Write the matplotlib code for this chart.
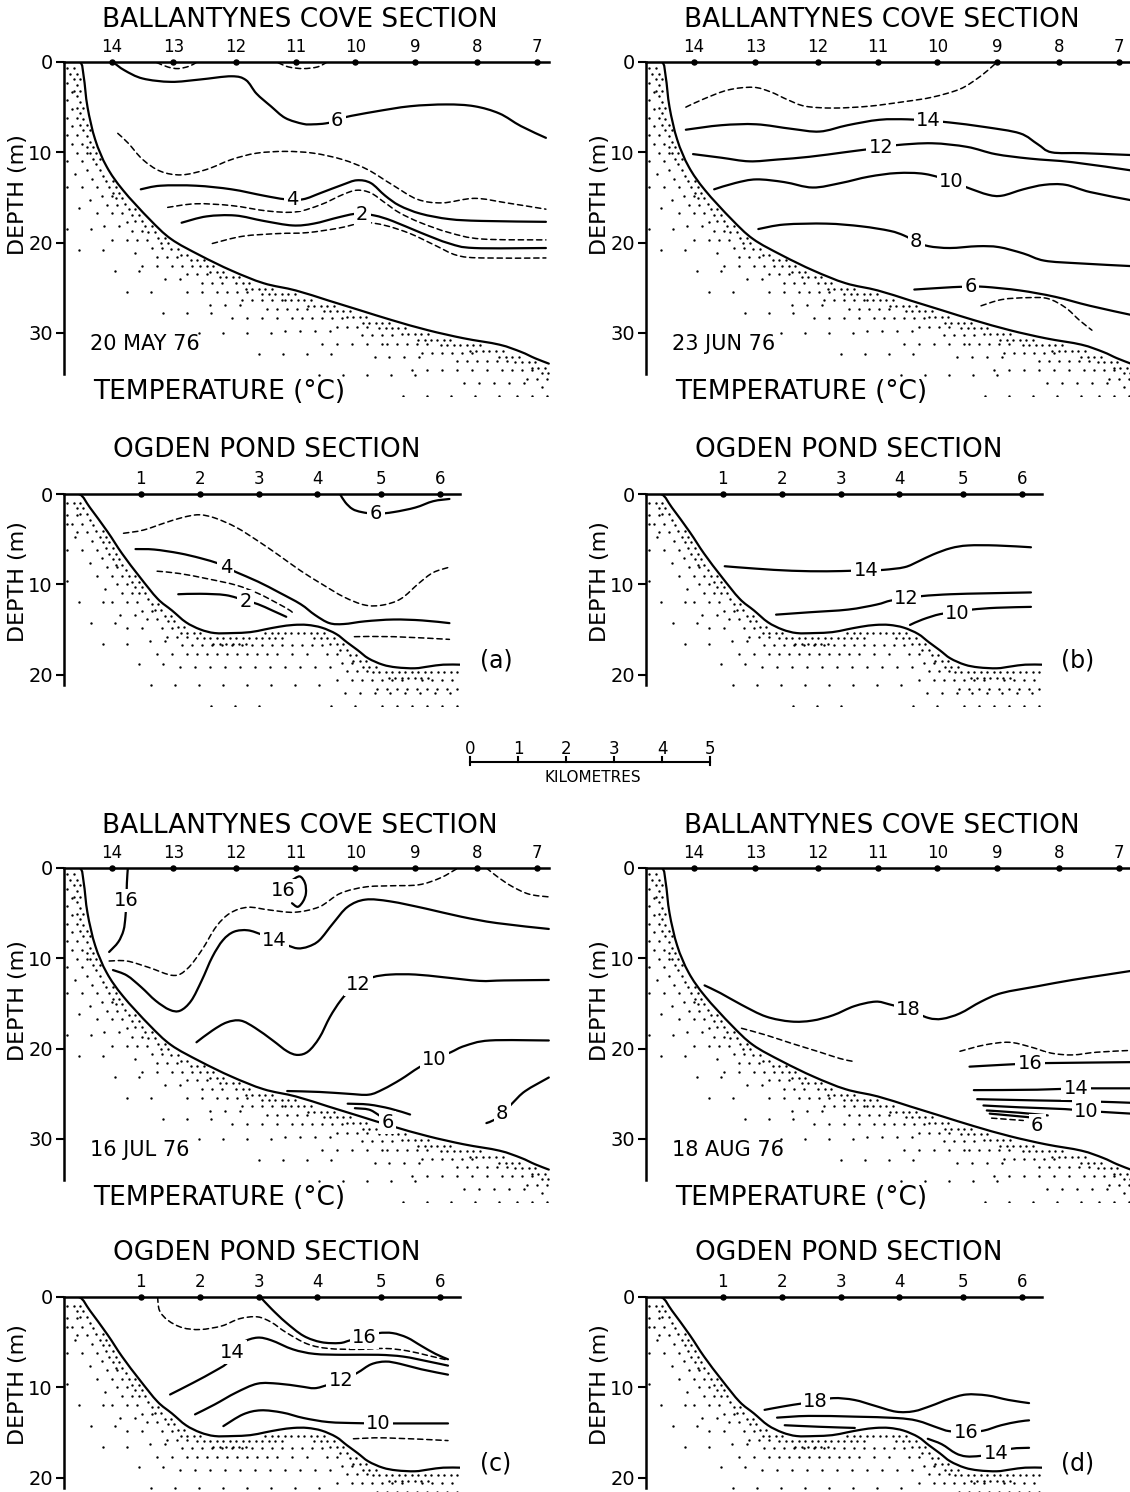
import numpy as np
import matplotlib.pyplot as plt
from matplotlib.path import Path
from matplotlib.patches import PathPatch

plt.rcParams['font.family'] = 'DejaVu Sans'

W, H = 1130, 1492
PX_KM = 48.0   # horizontal scale, same as the kilometre bar
PX_M = 9.03    # vertical scale

# stations and bottom profiles (km from shore, depth in m)
bc_station_km = [1.0, 2.28, 3.58, 4.83, 6.07, 7.31, 8.6, 9.85]
bc_station_lbl = ['14', '13', '12', '11', '10', '9', '8', '7']
op_station_km = [1.6, 2.84, 4.06, 5.28, 6.6, 7.84]
op_station_lbl = ['1', '2', '3', '4', '5', '6']

bc_bottom_km = [0, 0.33, 0.41, 0.49, 0.65, 0.89, 1.23, 1.78, 2.23, 2.83, 3.49,
                4.16, 4.83, 5.5, 6.17, 6.84, 7.58, 8.33, 9.07, 9.52, 9.81, 10.1]
bc_bottom_m = [0, 0, 1.6, 5.0, 8.6, 11.6, 14.2, 17.4, 19.6, 21.4, 23.1,
               24.5, 25.3, 26.4, 27.5, 28.6, 29.7, 30.6, 31.3, 32.1, 32.8, 33.4]
op_bottom_km = [0, 0.33, 0.54, 0.91, 1.21, 1.58, 1.95, 2.25, 2.54, 2.84, 3.14, 3.51,
                3.88, 4.18, 4.48, 4.78, 5.07, 5.37, 5.67, 5.89, 6.12, 6.34, 6.64,
                6.93, 7.31, 7.6, 7.9, 8.25]
op_bottom_m = [0, 0.05, 1.5, 4.2, 6.6, 9.2, 11.6, 12.9, 14.2, 15.0, 15.4, 15.4,
               15.3, 15.0, 14.7, 14.5, 14.5, 14.8, 15.5, 16.4, 17.3, 18.2, 18.9,
               19.2, 19.3, 19.1, 18.9, 18.9]

km_scale = [0, 1, 2, 3, 4, 5]

# ---------------- (a) 20 May 76 ----------------
may_bc_d1 = [(1.93, 0.05), (2.16, 0.55), (2.38, 0.73), (2.6, 0.48), (2.75, 0.08)]
may_bc_d2 = [(4.46, 0.08), (4.68, 0.55), (4.98, 0.73), (5.28, 0.55), (5.46, 0.08)]
may_bc_6 = [(1.03, 0.05), (1.26, 0.92), (1.64, 1.83), (2.23, 2.2), (2.83, 1.94), (3.49, 1.58),
            (3.79, 2.0), (4.01, 3.5), (4.31, 4.9), (4.61, 6.2), (4.98, 6.85), (5.2, 6.9),
            (5.45, 6.8), (5.69, 6.5), (5.87, 6.1), (6.47, 5.5), (7.21, 4.9), (7.96, 4.7),
            (8.55, 4.9), (9.07, 5.7), (9.52, 7.1), (10.04, 8.4)]
may_bc_5 = [(1.12, 7.9), (1.34, 9.0), (1.64, 10.8), (2.01, 12.1), (2.45, 12.5), (2.97, 11.9),
            (3.49, 10.8), (4.01, 10.1), (4.61, 9.9), (5.2, 10.1), (5.8, 10.8), (6.32, 11.9),
            (6.84, 13.6), (7.36, 15.2), (7.88, 15.6), (8.55, 15.1), (9.22, 15.6), (10.04, 16.3)]
may_bc_4 = [(1.6, 14.1), (2.01, 13.7), (2.75, 13.7), (3.49, 14.1), (4.16, 14.8), (4.61, 15.2),
            (4.98, 15.2), (5.35, 14.5), (5.8, 13.6), (6.1, 13.1), (6.39, 13.4), (6.69, 14.8),
            (6.99, 15.9), (7.43, 16.8), (8.03, 17.4), (8.7, 17.6), (10.04, 17.7)]
may_bc_3 = [(2.16, 16.1), (2.75, 15.7), (3.49, 15.9), (4.24, 16.5), (4.83, 16.6), (5.35, 15.8),
            (5.8, 14.7), (6.1, 14.2), (6.39, 14.5), (6.69, 15.6), (6.99, 16.7), (7.43, 17.8),
            (8.03, 18.9), (8.7, 19.6), (10.04, 19.7)]
may_bc_2 = [(2.45, 17.8), (2.97, 17.1), (3.57, 17.0), (4.16, 17.6), (4.76, 18.1), (5.2, 17.9),
            (5.72, 17.2), (6.1, 16.8), (6.47, 17.0), (6.84, 17.6), (7.43, 18.9), (8.03, 20.1),
            (8.55, 20.6), (10.04, 20.6)]
may_bc_1 = [(3.09, 20.1), (3.72, 19.3), (4.46, 19.0), (5.06, 18.9), (5.72, 18.4), (6.25, 17.8),
            (6.69, 18.1), (7.21, 19.0), (7.73, 20.3), (8.18, 21.4), (8.7, 21.7), (10.04, 21.7)]
may_bc_labels = [('6', 5.69, 6.5), ('4', 4.76, 15.2), ('2', 6.21, 16.85)]

may_op_6 = [(5.75, 0.0), (5.86, 0.92), (6.01, 1.66), (6.2, 2.0), (6.5, 2.2), (6.87, 2.0),
            (7.32, 1.5), (7.69, 0.8), (8.03, 0.55)]
may_op_5 = [(1.24, 4.35), (1.65, 4.0), (2.1, 3.2), (2.47, 2.6), (2.81, 2.3), (3.14, 2.65),
            (3.59, 3.7), (4.04, 5.2), (4.48, 6.8), (4.93, 8.5), (5.38, 10.0), (5.83, 11.4),
            (6.27, 12.3), (6.64, 12.3), (7.02, 11.6), (7.39, 9.9), (7.69, 8.7), (8.03, 8.1)]
may_op_4 = [(1.49, 6.1), (1.88, 6.15), (2.4, 6.56), (2.84, 7.1), (3.22, 7.7), (3.37, 8.1),
            (3.59, 8.66), (4.04, 9.7), (4.48, 10.9), (4.93, 12.2), (5.23, 13.4), (5.53, 14.3),
            (5.83, 14.4), (6.27, 14.1), (6.86, 13.9), (7.46, 14.0), (8.03, 14.3)]
may_op_3 = [(1.94, 8.55), (2.4, 8.8), (3.0, 9.4), (3.59, 10.1), (4.04, 11.0), (4.41, 12.0),
            (4.71, 12.9), (4.78, 13.3)]
may_op_2 = [(2.38, 11.1), (2.84, 11.05), (3.37, 11.2), (3.78, 11.8), (4.04, 12.2), (4.34, 12.9),
            (4.63, 13.6)]
may_op_1 = [(6.05, 15.8), (6.87, 15.8), (8.03, 16.1)]
may_op_labels = [('6', 6.5, 2.2), ('4', 3.37, 8.1), ('2', 3.78, 11.9)]

# ---------------- (b) 23 Jun 76 ----------------
jun_bc_15 = [(0.83, 5.0), (1.2, 4.1), (1.71, 3.1), (2.23, 2.8), (2.59, 3.3), (2.96, 4.2),
             (3.32, 4.9), (3.91, 5.1), (4.64, 4.9), (5.37, 4.4), (5.96, 3.9), (6.54, 3.0),
             (6.91, 1.8), (7.17, 0.7), (7.31, 0.0)]
jun_bc_14 = [(0.83, 7.5), (1.57, 7.0), (2.3, 6.9), (3.03, 7.4), (3.62, 7.7), (4.2, 7.0),
             (4.86, 6.4), (5.45, 6.35), (5.89, 6.5), (6.33, 6.7), (7.06, 7.2), (7.79, 7.9),
             (8.16, 9.1), (8.45, 10.0), (9.11, 10.1), (10.1, 10.3)]
jun_bc_12 = [(0.98, 10.2), (1.57, 10.6), (2.15, 11.0), (2.74, 10.8), (3.4, 10.5), (4.13, 10.0),
             (4.57, 9.7), (4.9, 9.5), (5.23, 9.2), (5.96, 9.0), (6.69, 9.4), (7.28, 10.2),
             (8.0, 10.7), (8.89, 11.1), (10.1, 12.0)]
jun_bc_10 = [(1.42, 14.1), (1.86, 13.4), (2.3, 13.0), (2.88, 13.3), (3.47, 13.9), (4.06, 13.4),
             (4.64, 12.7), (5.23, 12.3), (5.81, 12.4), (6.36, 13.2), (6.69, 13.9), (7.13, 14.7),
             (7.42, 14.8), (7.86, 14.1), (8.3, 13.6), (8.74, 13.6), (9.25, 14.4), (10.1, 15.3)]
jun_bc_8 = [(2.34, 18.5), (2.88, 18.0), (3.76, 17.9), (4.49, 18.2), (5.08, 18.7), (5.37, 19.2),
            (5.63, 19.9), (5.89, 20.4), (6.33, 20.6), (6.91, 20.4), (7.35, 20.5), (7.86, 21.2),
            (8.3, 22.0), (9.03, 22.3), (10.1, 22.6)]
jun_bc_6 = [(5.59, 25.2), (6.18, 25.0), (6.54, 24.9), (6.76, 24.9), (7.06, 24.9), (7.79, 25.3),
            (8.52, 26.0), (9.25, 27.0), (10.1, 28.0)]
jun_bc_5 = [(6.98, 27.0), (7.42, 26.3), (7.94, 26.1), (8.37, 26.2), (8.74, 27.2), (9.03, 28.6),
            (9.29, 29.7)]
jun_bc_labels = [('14', 5.89, 6.5), ('12', 4.9, 9.5), ('10', 6.36, 13.2), ('8', 5.63, 19.9),
                 ('6', 6.76, 24.9)]

jun_op_14 = [(1.64, 8.0), (2.3, 8.27), (3.04, 8.5), (3.77, 8.56), (4.29, 8.5), (4.58, 8.5),
             (4.95, 8.4), (5.39, 8.1), (5.68, 7.45), (5.98, 6.7), (6.35, 6.0), (6.71, 5.7),
             (7.3, 5.7), (8.02, 5.9)]
jun_op_12 = [(2.71, 13.36), (3.4, 13.1), (4.21, 12.8), (4.8, 12.25), (5.1, 11.8), (5.43, 11.6),
             (5.76, 11.3), (6.35, 11.1), (7.08, 11.0), (8.02, 10.9)]
jun_op_10 = [(5.5, 14.5), (5.76, 13.9), (6.13, 13.3), (6.49, 13.1), (6.79, 12.8), (7.3, 12.6),
             (8.02, 12.5)]
jun_op_labels = [('14', 4.58, 8.5), ('12', 5.43, 11.6), ('10', 6.49, 13.2)]

# ---------------- (c) 16 Jul 76 ----------------
jul_bc_16a = [(1.33, 0.0), (1.31, 1.67), (1.3, 3.6), (1.28, 5.4), (1.24, 6.9), (1.13, 8.2),
              (0.94, 9.3)]
jul_bc_16b = [(4.74, 1.4), (4.91, 0.93), (5.02, 1.67), (5.04, 2.8), (4.98, 3.7), (4.87, 4.3),
              (4.75, 3.9)]
jul_bc_15 = [(0.94, 10.3), (1.31, 10.3), (1.76, 11.0), (2.28, 11.9), (2.57, 11.15), (2.87, 9.1),
             (3.17, 6.5), (3.46, 5.0), (3.83, 4.35), (4.28, 4.65), (4.8, 4.9), (5.32, 4.3),
             (5.76, 2.8), (6.28, 2.1), (6.8, 1.97), (7.39, 1.86), (7.84, 1.1), (8.21, 0.0)]
jul_bc_15b = [(8.8, 0.0), (9.02, 0.93), (9.32, 2.0), (9.69, 2.9), (10.1, 3.2)]
jul_bc_14 = [(1.02, 11.3), (1.31, 11.9), (1.61, 13.2), (1.91, 14.7), (2.2, 15.7), (2.42, 15.8),
             (2.65, 14.7), (2.87, 12.45), (3.09, 9.85), (3.31, 8.0), (3.54, 7.06), (3.83, 6.9),
             (4.13, 7.4), (4.39, 8.0), (4.65, 8.55), (4.87, 8.9), (5.09, 8.7), (5.32, 8.0),
             (5.61, 6.1), (5.91, 4.3), (6.28, 3.5), (6.8, 3.7), (7.54, 4.5), (8.28, 5.4),
             (9.02, 6.1), (10.1, 6.75)]
jul_bc_12 = [(2.76, 19.3), (3.09, 18.0), (3.39, 17.1), (3.68, 16.9), (3.98, 17.7), (4.35, 19.1),
             (4.65, 20.3), (4.87, 20.7), (5.09, 20.3), (5.32, 18.8), (5.54, 16.5), (5.76, 14.7),
             (5.98, 13.4), (6.13, 12.9), (6.43, 12.1), (6.8, 11.8), (7.32, 11.8), (7.91, 12.1),
             (8.65, 12.5), (9.17, 12.45), (10.1, 12.4)]
jul_bc_10 = [(4.65, 24.7), (5.32, 24.8), (5.91, 25.0), (6.35, 25.1), (6.65, 24.5), (7.02, 23.4),
             (7.39, 22.1), (7.72, 21.2), (8.06, 20.4), (8.35, 19.7), (8.87, 19.1), (10.1, 19.1)]
jul_bc_8 = [(8.8, 28.25), (8.96, 27.9), (9.13, 27.2), (9.35, 26.0), (9.61, 24.7), (10.1, 23.2)]
jul_bc_7 = [(5.91, 26.1), (6.35, 26.2), (6.8, 26.65), (7.21, 27.3)]
jul_bc_6 = [(6.06, 26.6), (6.35, 26.75), (6.54, 27.3), (6.72, 28.0)]
jul_bc_labels = [('16', 1.3, 3.6), ('16', 4.57, 2.5), ('14', 4.39, 8.0), ('12', 6.13, 12.9),
                 ('10', 7.72, 21.2), ('8', 9.13, 27.2), ('6', 6.74, 28.2)]

jul_op_15 = [(1.95, 0.0), (1.99, 1.5), (2.17, 2.6), (2.47, 3.4), (2.84, 3.6), (3.29, 3.2),
             (3.66, 2.4), (4.03, 2.2), (4.32, 2.8), (4.62, 3.9), (5.07, 5.2), (5.51, 5.7),
             (6.11, 5.8), (6.7, 5.7), (7.15, 5.96), (7.6, 6.5), (8.0, 7.0)]
jul_op_16 = [(4.09, 0.0), (4.32, 1.3), (4.62, 2.8), (4.99, 4.3), (5.36, 5.0), (5.74, 5.1),
             (5.96, 4.8), (6.26, 4.4), (6.55, 4.0), (6.85, 4.0), (7.15, 4.5), (7.44, 5.4),
             (7.74, 6.3), (8.0, 6.9)]
jul_op_14 = [(2.21, 10.8), (2.69, 9.5), (3.14, 8.2), (3.4, 7.3), (3.5, 6.1), (3.73, 5.0),
             (4.03, 4.5), (4.32, 4.8), (4.77, 5.8), (5.22, 6.3), (5.81, 6.4), (6.55, 6.4),
             (7.07, 6.6), (7.6, 7.15), (8.0, 7.6)]
jul_op_12 = [(2.73, 13.0), (3.14, 11.9), (3.58, 10.6), (4.03, 9.6), (4.47, 9.6), (4.92, 9.9),
             (5.22, 10.1), (5.48, 9.76), (5.77, 9.3), (6.11, 8.4), (6.4, 7.45), (6.7, 7.15),
             (7.0, 7.4), (7.44, 8.0), (8.0, 8.6)]
jul_op_10 = [(3.32, 14.3), (3.73, 13.0), (4.1, 12.55), (4.55, 12.8), (4.99, 13.4), (5.51, 13.85),
             (6.11, 13.97), (6.55, 14.0), (6.92, 14.0), (8.0, 14.0)]
jul_op_9 = [(6.03, 15.7), (6.7, 15.6), (8.0, 15.9)]
jul_op_labels = [('16', 6.26, 4.45), ('14', 3.5, 6.1), ('12', 5.77, 9.3), ('10', 6.55, 14.0)]

# ---------------- (d) 18 Aug 76 ----------------
aug_bc_18 = [(1.22, 13.0), (1.55, 13.85), (1.99, 15.15), (2.5, 16.45), (3.02, 17.0), (3.46, 16.9),
             (3.9, 16.3), (4.34, 15.3), (4.78, 14.8), (5.07, 15.1), (5.47, 15.7), (5.88, 16.6),
             (6.17, 16.7), (6.54, 16.1), (6.98, 14.8), (7.41, 13.85), (8.15, 13.1), (8.88, 12.4),
             (9.61, 11.8), (10.1, 11.4)]
aug_bc_17a = [(1.99, 17.75), (2.5, 18.5), (3.02, 19.4), (3.6, 20.35), (4.04, 21.1), (4.3, 21.4)]
aug_bc_17b = [(6.54, 20.3), (7.05, 19.6), (7.56, 19.3), (8.0, 19.8), (8.44, 20.5), (8.88, 20.7),
              (9.39, 20.4), (10.1, 20.2)]
aug_bc_16 = [(6.74, 22.0), (7.41, 21.8), (8.0, 21.65), (8.37, 21.6), (10.1, 21.5)]
aug_bc_14 = [(6.83, 24.6), (8.15, 24.55), (8.96, 24.4), (9.32, 24.4), (10.1, 24.4)]
aug_bc_12 = [(6.9, 25.6), (8.15, 25.74), (9.25, 25.85), (10.1, 26.0)]
aug_bc_10 = [(7.03, 26.3), (7.78, 26.5), (8.73, 26.7), (9.18, 26.9), (9.47, 27.0), (10.1, 27.2)]
aug_bc_8 = [(7.1, 26.85), (7.78, 27.1), (8.37, 27.4)]
aug_bc_7 = [(7.16, 27.2), (7.78, 27.5), (8.07, 27.65)]
aug_bc_6 = [(7.2, 27.7), (7.86, 27.96)]
aug_bc_labels = [('18', 5.47, 15.7), ('16', 8.0, 21.65), ('14', 8.96, 24.4), ('10', 9.18, 26.95),
                 ('6', 8.15, 28.5)]

aug_op_18 = [(2.47, 12.5), (2.88, 12.1), (3.24, 11.8), (3.53, 11.6), (3.9, 11.2), (4.34, 11.4),
             (4.77, 12.05), (5.21, 12.7), (5.58, 12.65), (5.94, 12.05), (6.31, 11.3), (6.67, 10.8),
             (7.11, 10.9), (7.55, 11.4), (7.98, 11.75)]
aug_op_16 = [(2.73, 13.36), (3.39, 13.17), (4.34, 13.25), (5.21, 13.4), (5.65, 13.7), (6.09, 14.5),
             (6.31, 14.85), (6.67, 14.96), (7.03, 14.8), (7.4, 14.2), (7.76, 13.8), (7.98, 13.66)]
aug_op_15 = [(2.89, 14.2), (3.6, 14.37), (4.35, 14.5)]
aug_op_14 = [(5.87, 15.7), (6.16, 16.3), (6.45, 17.3), (6.67, 17.65), (6.96, 17.6), (7.29, 17.3),
             (7.62, 16.8), (7.98, 16.7)]
aug_op_labels = [('18', 3.53, 11.6), ('16', 6.67, 14.96), ('14', 7.29, 17.3)]

S, D = '-', '--'
panels = [
    # x0, y0, kind, lines, labels, date, tag
    (64, 62, 'bc', [(may_bc_d1, D), (may_bc_d2, D), (may_bc_6, S), (may_bc_5, D), (may_bc_4, S),
                    (may_bc_3, D), (may_bc_2, S), (may_bc_1, D)], may_bc_labels, '20 MAY 76', None),
    (646, 62, 'bc', [(jun_bc_15, D), (jun_bc_14, S), (jun_bc_12, S), (jun_bc_10, S), (jun_bc_8, S),
                     (jun_bc_6, S), (jun_bc_5, D)], jun_bc_labels, '23 JUN 76', None),
    (64, 494, 'op', [(may_op_6, S), (may_op_5, D), (may_op_4, S), (may_op_3, D), (may_op_2, S),
                     (may_op_1, D)], may_op_labels, None, '(a)'),
    (646, 494, 'op', [(jun_op_14, S), (jun_op_12, S), (jun_op_10, S)], jun_op_labels, None, '(b)'),
    (64, 868, 'bc', [(jul_bc_16a, S), (jul_bc_16b, S), (jul_bc_15, D), (jul_bc_15b, D),
                     (jul_bc_14, S), (jul_bc_12, S), (jul_bc_10, S), (jul_bc_8, S), (jul_bc_7, S),
                     (jul_bc_6, S)], jul_bc_labels, '16 JUL 76', None),
    (646, 868, 'bc', [(aug_bc_18, S), (aug_bc_17a, D), (aug_bc_17b, D), (aug_bc_16, S),
                      (aug_bc_14, S), (aug_bc_12, S), (aug_bc_10, S), (aug_bc_8, S), (aug_bc_7, S),
                      (aug_bc_6, D)], aug_bc_labels, '18 AUG 76', None),
    (64, 1297, 'op', [(jul_op_15, D), (jul_op_16, S), (jul_op_14, S), (jul_op_12, S),
                      (jul_op_10, S), (jul_op_9, D)], jul_op_labels, None, '(c)'),
    (646, 1297, 'op', [(aug_op_18, S), (aug_op_16, S), (aug_op_15, S), (aug_op_14, S)],
     aug_op_labels, None, '(d)'),
]

fig = plt.figure(figsize=(W / 100, H / 100), dpi=100)


def smooth_path(xs, zs):
    # Bezier path through the read points (Catmull-Rom tangents)
    p = np.column_stack([xs, zs]).astype(float)
    if len(p) < 3:
        return Path(p)
    ext = np.vstack([p[0], p, p[-1]])
    verts = [p[0]]
    codes = [Path.MOVETO]
    for i in range(len(p) - 1):
        p0, p1, p2, p3 = ext[i], ext[i + 1], ext[i + 2], ext[i + 3]
        verts += [p1 + (p2 - p0) / 6, p2 - (p3 - p1) / 6, p2]
        codes += [Path.CURVE4] * 3
    return Path(np.array(verts), codes)


def draw_curve(ax, xs, zs, lw, ls, z):
    ax.add_patch(PathPatch(smooth_path(xs, zs), fill=False, ec='k', lw=lw, linestyle=ls,
                           capstyle='round', joinstyle='round', zorder=z))


def seg_dist(p, a, b):
    ab = b - a
    ap = p[:, None, :] - a[None]
    t = np.clip((ap * ab).sum(-1) / np.maximum((ab ** 2).sum(-1), 1e-9), 0, 1)
    d = p[:, None, :] - (a[None] + t[..., None] * ab[None])
    return np.sqrt((d ** 2).sum(-1)).min(1)


def stipple(ax, bkm, bm):
    # dots get sparser away from the bottom line
    curve = ax.transData.transform(np.column_stack([bkm, bm]))
    bb = ax.bbox
    keep = []
    for step, dmin, dmax in [(6.5, 3, 12), (10, 12, 25), (15, 25, 44), (24, 44, 75)]:
        rows = np.arange(bb.y0, bb.y1, step * 0.87)
        for i, yy in enumerate(rows):
            xx = np.arange(bb.x0 + 3 + (i % 2) * step / 2, bb.x1, step)
            p = np.column_stack([xx, np.full_like(xx, yy)])
            below = yy < np.interp(xx, curve[:, 0], curve[:, 1])
            d = seg_dist(p, curve[:-1], curve[1:])
            keep.append(p[below & (d >= dmin) & (d < dmax)])
    pts = ax.transData.inverted().transform(np.vstack(keep))
    ax.scatter(pts[:, 0], pts[:, 1], s=3.0, c='k', lw=0, zorder=1)


for x0, y0, kind, lines, labels, date, tag in panels:
    if kind == 'bc':
        xmax, zmax, spine_end, yt = 10.15, 37.0, 34.5, [0, 10, 20, 30]
        st, sl, bk, bm = bc_station_km, bc_station_lbl, bc_bottom_km, bc_bottom_m
        title, tx, tz, dz = 'BALLANTYNES COVE SECTION', 4.92, -4.65, 14.7
    else:
        xmax, zmax, spine_end, yt = 8.25, 23.5, 21.2, [0, 10, 20]
        st, sl, bk, bm = op_station_km, op_station_lbl, op_bottom_km, op_bottom_m
        title, tx, tz, dz = 'OGDEN POND SECTION', 4.22, -4.9, 9.7
    w, h = xmax * PX_KM, zmax * PX_M
    ax = fig.add_axes([x0 / W, 1 - (y0 + h) / H, w / W, h / H])
    ax.set_xlim(0, xmax)
    ax.set_ylim(zmax, 0)
    ax.patch.set_alpha(0)

    for side in ['right', 'bottom']:
        ax.spines[side].set_visible(False)
    ax.spines['top'].set_bounds(0, min(xmax, 10.1))
    ax.spines['left'].set_bounds(0, spine_end)
    ax.spines['top'].set_linewidth(1.8)
    ax.spines['left'].set_linewidth(1.8)

    ax.xaxis.tick_top()
    ax.set_xticks(st)
    ax.set_xticklabels(sl)
    ax.tick_params(axis='x', length=0, labelsize=12, pad=4)
    ax.set_yticks(yt)
    ax.tick_params(axis='y', direction='out', length=6, width=1.5, labelsize=14, pad=2)
    ax.plot(st, [0] * len(st), 'o', ms=3.6, color='k', clip_on=False, zorder=5)

    stipple(ax, bk, bm)
    draw_curve(ax, bk, bm, 1.6, '-', 2)

    for pts, ls in lines:
        xs, zs = zip(*pts)
        if ls == S:
            draw_curve(ax, xs, zs, 1.6, '-', 3)
        else:
            draw_curve(ax, xs, zs, 1.1, (0, (3.5, 2.5)), 3)
    for txt, lx, lz in labels:
        ax.text(lx, lz, txt, ha='center', va='center', fontsize=14, zorder=4,
                bbox=dict(boxstyle='square,pad=0.12', fc='white', ec='none'))

    ax.text(tx, tz, title, ha='center', va='center', fontsize=19, clip_on=False)
    ax.text(-0.95, dz, 'DEPTH (m)', rotation=90, ha='center', va='center', fontsize=16,
            clip_on=False)
    if date:
        ax.text(0.55, 31.2, date, ha='left', va='center', fontsize=15)
        ax.text(0.6, 36.5, 'TEMPERATURE (°C)', ha='left', va='center', fontsize=19,
                clip_on=False)
    if tag:
        ax.text(9.0, 18.4, tag, ha='center', va='center', fontsize=17, clip_on=False)

# kilometre scale bar
sb = fig.add_axes([470 / W, 1 - 795 / H, 240 / W, 60 / H])
sb.set_xlim(0, 5)
sb.set_ylim(60, 0)
sb.axis('off')
sb.plot([km_scale[0], km_scale[-1]], [27, 27], color='k', lw=1.5, clip_on=False)
for k in km_scale:
    end = k in (km_scale[0], km_scale[-1])
    sb.plot([k, k], [22, 30 if end else 27], color='k', lw=1.5, clip_on=False)
    sb.text(k, 14, str(k), ha='center', va='center', fontsize=12, clip_on=False)
sb.text(2.55, 43, 'KILOMETRES', ha='center', va='center', fontsize=11, clip_on=False)

fig.savefig('out.png', dpi=100)
